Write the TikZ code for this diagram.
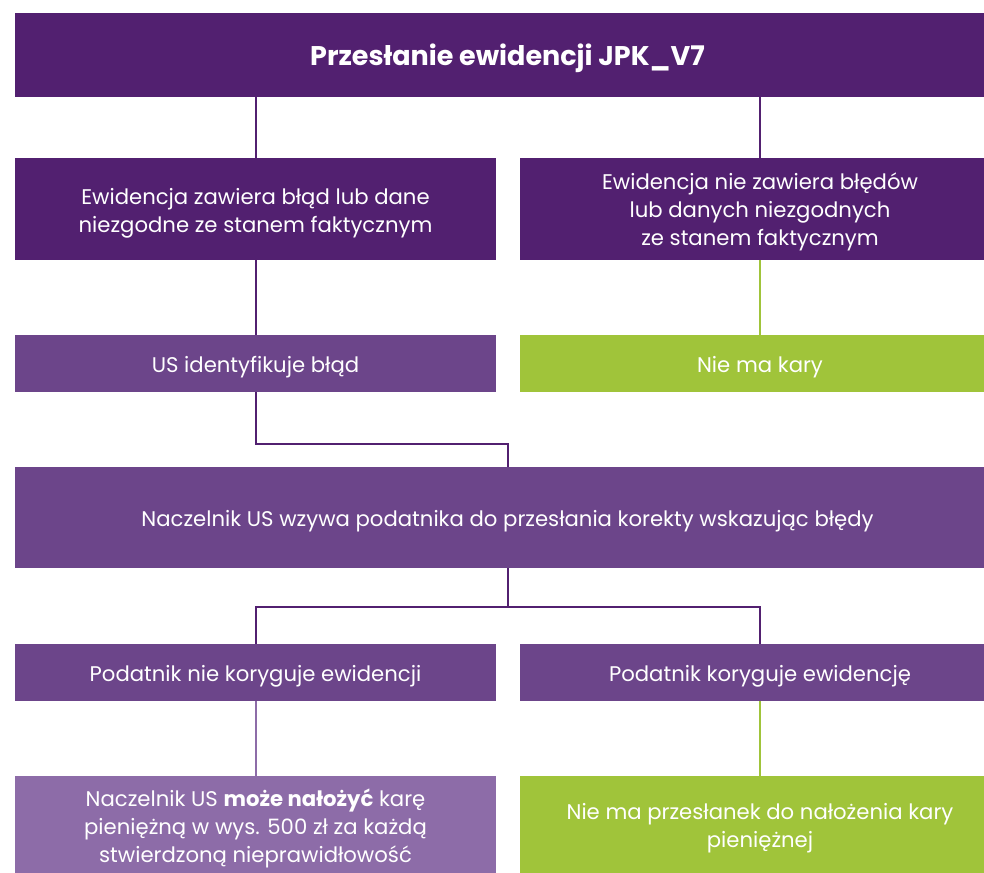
\documentclass[tikz,border=0pt]{standalone}
\usepackage{fontspec}
\setmainfont{Poppins}
\definecolor{dpurple}{HTML}{522070}
\definecolor{mpurple}{HTML}{6C458A}
\definecolor{lpurple}{HTML}{8D6CA8}
\definecolor{lgreen}{HTML}{A0C43A}
\newcommand\mlines[1]{\begin{tabular}[t]{@{}c@{}}#1\end{tabular}}
\tikzset{
  box/.style={rectangle, inner sep=0pt, text=white,
    font=\fontsize{21.2}{28}\selectfont,
    text height=18pt, text depth=0pt},
  titlebox/.style={box, font=\fontsize{27}{28}\selectfont\bfseries,
    text height=21.4pt, text depth=0pt},
  conn/.style={line width=2pt, dpurple},
}
\begin{document}
\begin{tikzpicture}[x=1pt, y=-1pt]
\useasboundingbox (0,0) rectangle (984,872);
\node[titlebox, fill=dpurple, minimum width=985, minimum height=84] (top) at (507.5,55) {Przesłanie ewidencji JPK\_V7};
\node[box, fill=dpurple, minimum width=481, minimum height=102,
  text height=0pt, text depth=10pt] (r2l) at (255.5,209)
  {\mlines{Ewidencja zawiera błąd lub dane\\niezgodne ze stanem faktycznym}};
\node[box, fill=dpurple, minimum width=480, minimum height=102,
  text height=0pt, text depth=40pt] (r2r) at (760,209)
  {\mlines{Ewidencja nie zawiera błędów\\lub danych niezgodnych\\ze stanem faktycznym}};
\node[box, fill=mpurple, minimum width=481, minimum height=57] (r3l) at (255.5,363.5)
  {US identyfikuje błąd};
\node[box, fill=lgreen, minimum width=480, minimum height=57] (r3r) at (760,363.5)
  {Nie ma kary};
\node[box, fill=mpurple, minimum width=985, minimum height=101] (r4) at (507.5,517.5)
  {Naczelnik US wzywa podatnika do przesłania korekty wskazując błędy};
\node[box, fill=mpurple, minimum width=481, minimum height=57] (r5l) at (255.5,672.5)
  {Podatnik nie koryguje ewidencji};
\node[box, fill=mpurple, minimum width=480, minimum height=57] (r5r) at (760,672.5)
  {Podatnik koryguje ewidencję};
\node[box, fill=lpurple, minimum width=481, minimum height=104,
  text height=0pt, text depth=44pt] (r6l) at (255.5,828)
  {\mlines{Naczelnik US \textbf{może nałożyć} karę\\pieniężną w wys. 500 zł za każdą\\stwierdzoną nieprawidłowość}};
\node[box, fill=lgreen, minimum width=480, minimum height=104,
  text height=0pt, text depth=18pt] (r6r) at (760,828)
  {\mlines{Nie ma przesłanek do nałożenia kary\\pieniężnej}};
% connectors
\draw[conn] (top.south -| r2l.north) -- (r2l.north);
\draw[conn] (top.south -| r2r.north) -- (r2r.north);
\draw[conn] (r2l.south) -- (r3l.north);
\draw[conn, lgreen] (r2r.south) -- (r3r.north);
\draw[conn] (r3l.south) -- (r3l.south |- 0,444) -| (r4.north);
\draw[conn] (r4.south) -- (r4.south |- 0,607) -| (r5l.north);
\draw[conn] (r4.south |- 0,607) -| (r5r.north);
\draw[conn, lpurple] (r5l.south) -- (r6l.north);
\draw[conn, lgreen] (r5r.south) -- (r6r.north);
\end{tikzpicture}
\end{document}
